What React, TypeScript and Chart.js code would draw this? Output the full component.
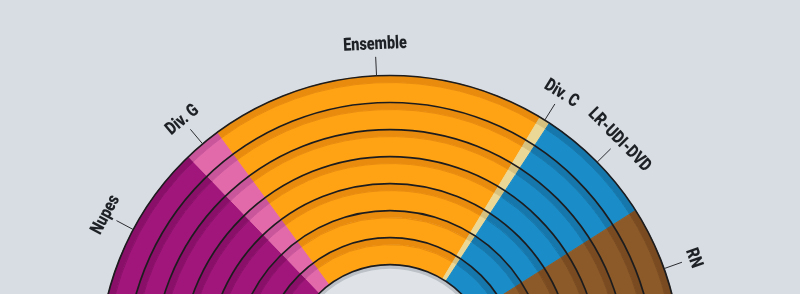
import React, { useEffect, useRef } from 'react';
import { Chart, ArcElement, DoughnutController } from 'chart.js';

Chart.register(ArcElement, DoughnutController);

// Parties from left to right (first and last lie below the visible crop)
const parties = ['Ext.G', 'Nupes', 'Div. G', 'Ensemble', 'Div. C', 'LR-UDI-DVD', 'RN', 'Div.D'];
const seats = [32, 116, 24, 216, 7, 78, 82, 22];
const mainColors = ['#b5322a', '#a0167a', '#e26aaa', '#ffa214', '#ebd796', '#1a8cc8', '#8c5a28', '#2b3a55'];
const bandColors = ['#9c2a23', '#8a0f69', '#c9559a', '#e98c0e', '#d7c17f', '#1577ab', '#7a4b20', '#222f46'];
const RING_COUNT = 7;

const BG = '#d8dde3';

const overlayPlugin = {
  id: 'overlay',
  afterDatasetsDraw(chart: any) {
    const ctx: CanvasRenderingContext2D = chart.ctx;
    const n = chart.data.datasets.length;
    const firstMeta = chart.getDatasetMeta(0);
    const first = firstMeta.data[0] as any;
    const cx = first.x;
    const cy = first.y;
    const R = first.outerRadius;
    const last = chart.getDatasetMeta(n - 1).data[0] as any;
    const rIn = last.innerRadius;
    ctx.save();
    // hole
    ctx.beginPath();
    ctx.arc(cx, cy, rIn, 0, 2 * Math.PI);
    ctx.fillStyle = '#dfe3e7';
    ctx.fill();
    ctx.beginPath();
    ctx.arc(cx, cy, rIn - 2, Math.PI, 2 * Math.PI);
    ctx.strokeStyle = '#bcc1c7';
    ctx.lineWidth = 4;
    ctx.stroke();
    // ring separators
    ctx.strokeStyle = '#1c1c1e';
    ctx.lineWidth = 1.7;
    for (let d = 0; d < n; d += 2) {
      const a = chart.getDatasetMeta(d).data[0] as any;
      ctx.beginPath();
      ctx.arc(cx, cy, a.outerRadius, Math.PI, 2 * Math.PI);
      ctx.stroke();
    }
    ctx.beginPath();
    ctx.arc(cx, cy, rIn, Math.PI, 2 * Math.PI);
    ctx.stroke();
    // labels
    firstMeta.data.forEach((arc: any, i: number) => {
      const mid = (arc.startAngle + arc.endAngle) / 2;
      const cos = Math.cos(mid);
      const sin = Math.sin(mid);
      ctx.beginPath();
      ctx.moveTo(cx + R * cos, cy + R * sin);
      ctx.lineTo(cx + (R + 19) * cos, cy + (R + 19) * sin);
      ctx.strokeStyle = '#2a2c30';
      ctx.lineWidth = 1;
      ctx.stroke();
      const tr = R + 31;
      ctx.save();
      ctx.translate(cx + tr * cos, cy + tr * sin);
      ctx.rotate(mid + Math.PI / 2);
      ctx.scale(0.8, 1);
      ctx.font = '900 18px Roboto';
      ctx.fillStyle = '#1e2226';
      ctx.textAlign = 'center';
      ctx.textBaseline = 'middle';
      ctx.fillText(parties[i], 0, 0);
      ctx.restore();
    });
    ctx.restore();
  },
};

export default function App() {
  const ref = useRef<HTMLCanvasElement | null>(null);
  useEffect(() => {
    if (!ref.current) return;
    const datasets: any[] = [];
    for (let r = 0; r < RING_COUNT; r++) {
      datasets.push({ data: seats, backgroundColor: bandColors, borderColor: bandColors, borderWidth: 1, weight: 7 });
      datasets.push({ data: seats, backgroundColor: mainColors, borderColor: mainColors, borderWidth: 1, weight: 20 });
    }
    const chart = new Chart(ref.current, {
      type: 'doughnut',
      data: { labels: parties, datasets },
      options: {
        animation: false,
        responsive: false,
        devicePixelRatio: 1,
        events: [],
        rotation: -90,
        circumference: 180,
        cutout: '35%',
        layout: { padding: { left: 98, right: 118, top: 75, bottom: 33 } },
      } as any,
      plugins: [overlayPlugin],
    });
    return () => chart.destroy();
  }, []);
  return (
    <div style={{ position: 'fixed', left: 0, top: 0, width: 800, height: 294, overflow: 'hidden', background: BG }}>
      <canvas ref={ref} width={800} height={400} style={{ display: 'block' }} />
    </div>
  );
}
